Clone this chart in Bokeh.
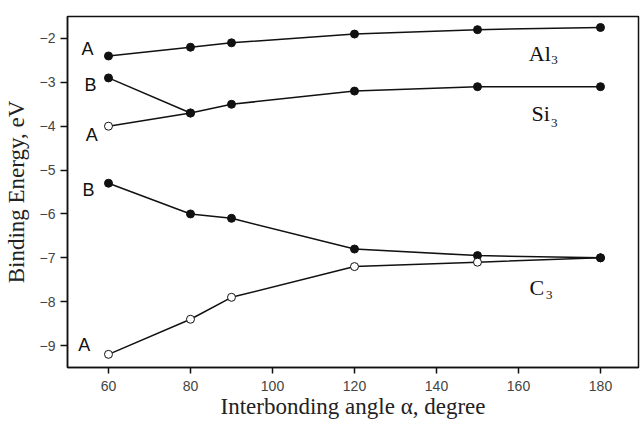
from bokeh.plotting import figure
from bokeh.embed import file_html
from bokeh.resources import INLINE
from bokeh.models import Range1d
from bokeh.core.properties import value

# ---- data ----
angles = [60, 80, 90, 120, 150, 180]
al3_A = [-2.4, -2.2, -2.1, -1.9, -1.8, -1.75]
si3_A = [-4.0, -3.7, -3.5, -3.2, -3.1, -3.1]
si3_B_angles = [60, 80]
si3_B = [-2.9, -3.7]
c3_A = [-9.2, -8.4, -7.9, -7.2, -7.1, -7.0]
c3_B = [-5.3, -6.0, -6.1, -6.8, -6.95, -7.0]

# which points are drawn as open circles
si3_A_open = [True, False, False, False, False, False]
c3_A_open = [True, True, True, True, True, False]

# state labels (letter, x, y)
state_letters = ["A", "B", "A", "B", "A"]
state_x = [54.9, 55.6, 55.9, 55.1, 54.1]
state_y = [-2.24, -3.07, -4.2, -5.46, -8.98]

# cluster labels: main text, subscript
cluster_main = ["Al", "Si", "C"]
cluster_sub = ["3", "3", "3"]
cluster_x = [162.5, 163.2, 162.7]
cluster_y = [-2.34, -3.70, -7.67]
sub_x = [168.0, 167.9, 166.7]
sub_y = [-2.50, -3.93, -7.85]

x_ticks = [60, 80, 100, 120, 140, 160, 180]
y_ticks = [-9, -8, -7, -6, -5, -4, -3, -2]

p = figure(width=640, height=423, output_backend="svg", toolbar_location=None,
           x_range=Range1d(50, 189.27), y_range=Range1d(-9.5, -1.5),
           min_border_left=67, min_border_right=2, min_border_top=16, min_border_bottom=56)
p.background_fill_color = "white"
p.border_fill_color = "white"
p.outline_line_color = "#111111"
p.outline_line_width = 1.5
p.grid.visible = False

for ax in (p.xaxis[0], p.yaxis[0]):
    ax.axis_line_width = 1.5
    ax.axis_line_color = "#111111"
    ax.major_tick_line_color = "#111111"
    ax.minor_tick_line_color = "#111111"
    ax.major_tick_line_width = 1.5
    ax.minor_tick_line_width = 1.2
    ax.major_tick_in = 0
    ax.minor_tick_in = 0
    ax.major_label_text_font = "Liberation Sans"
    ax.major_label_text_font_size = "14px"
    ax.major_label_text_color = "#444444"
    ax.axis_label_text_font = "Liberation Serif"
    ax.axis_label_text_font_size = "23px"
    ax.axis_label_text_font_style = "normal"
    ax.axis_label_text_color = "#222222"

p.xaxis.ticker = x_ticks
p.xaxis[0].ticker.num_minor_ticks = 2
p.yaxis.ticker = y_ticks
p.yaxis[0].ticker.num_minor_ticks = 2
p.xaxis.major_tick_out = 6
p.xaxis.minor_tick_out = 3
p.yaxis.major_tick_out = 7
p.yaxis.minor_tick_out = 4
p.xaxis.major_label_standoff = 7
p.yaxis.major_label_standoff = 5
p.xaxis.axis_label_standoff = 0
p.yaxis.axis_label_standoff = 8
p.xaxis.axis_label = "Interbonding angle α, degree"
p.yaxis.axis_label = "Binding Energy, eV"

lc = "#111111"
lw = 1.5
p.line(angles, al3_A, line_color=lc, line_width=lw)
p.line(angles, si3_A, line_color=lc, line_width=lw)
p.line(si3_B_angles, si3_B, line_color=lc, line_width=lw)
p.line(angles, c3_A, line_color=lc, line_width=lw)
p.line(angles, c3_B, line_color=lc, line_width=lw)


def pts(xs, ys, opens=None):
    if opens is None:
        opens = [False] * len(xs)
    fx = [x for x, o in zip(xs, opens) if not o]
    fy = [y for y, o in zip(ys, opens) if not o]
    ox = [x for x, o in zip(xs, opens) if o]
    oy = [y for y, o in zip(ys, opens) if o]
    if fx:
        p.scatter(fx, fy, size=8, marker="circle", fill_color=lc, line_color=lc)
    if ox:
        p.scatter(ox, oy, size=8, marker="circle", fill_color="white", line_color=lc, line_width=1)


pts(angles, al3_A)
pts(si3_B_angles, si3_B)
pts(angles, si3_A, si3_A_open)
pts(angles, c3_B)
pts(angles, c3_A, c3_A_open)

p.text(state_x, state_y, text=state_letters, text_font=value("Liberation Sans"),
       text_font_size="18px", text_align="center", text_baseline="middle", text_color="#111111")
p.text(cluster_x, cluster_y, text=cluster_main, text_font=value("Liberation Serif"),
       text_font_size="22px", text_align="left", text_baseline="alphabetic", text_color="#111111")
p.text(sub_x, sub_y, text=cluster_sub, text_font=value("Liberation Serif"),
       text_font_size="13px", text_align="left", text_baseline="alphabetic", text_color="#111111")

open("out.html", "w").write(file_html(p, INLINE))
